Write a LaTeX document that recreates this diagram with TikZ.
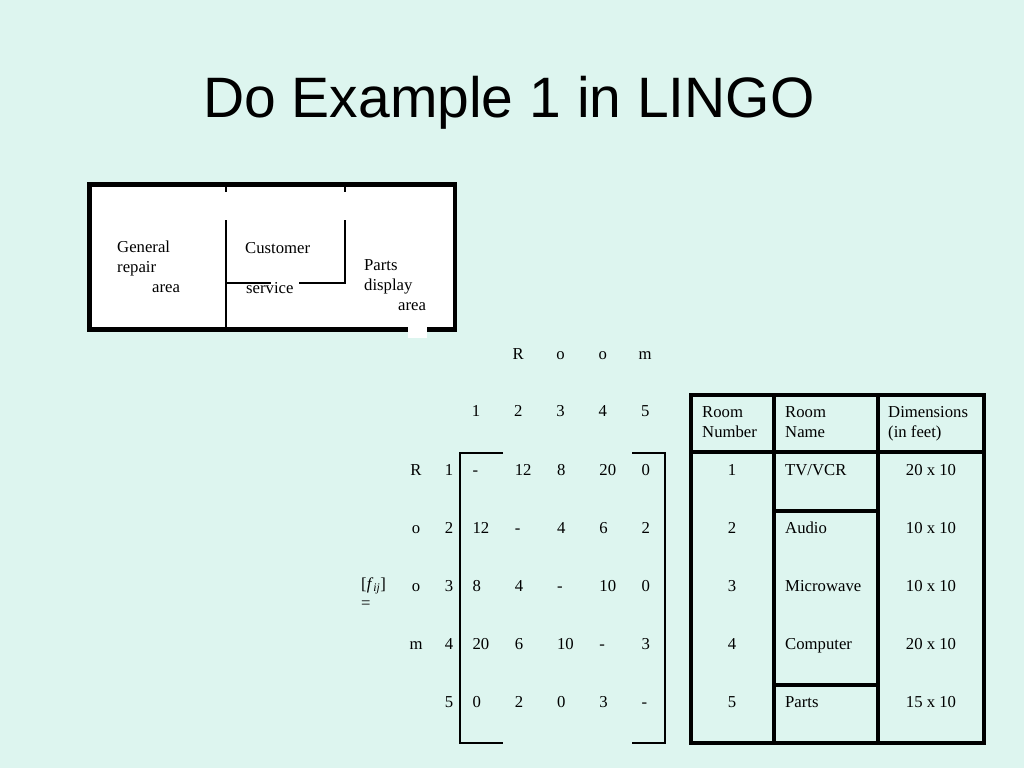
\documentclass[tikz,border=0pt]{standalone}
\usepackage{fontspec}
\setmainfont{Liberation Serif}
\newfontfamily\titlefont{Liberation Sans}
\definecolor{mint}{RGB}{221,245,239}

\begin{document}
\begin{tikzpicture}[x=1pt,y=-1pt,
		txt/.style={anchor=base west,inner sep=0pt,font=\fontsize{16.7}{20}\selectfont},
		mid/.style={txt,anchor=base},
		wall/.style={line width=2.4pt},
		grid/.style={line width=3.3pt}]
		\fill[mint] (0,0) rectangle (1024,768);
		\useasboundingbox (0,0) rectangle (1024,768);
		\node[inner sep=0pt,anchor=base,font=\fontsize{57}{60}\titlefont] (title) at (509,117) {Do Example 1 in LINGO};
		\fill[white] (89.5,184.5) rectangle (455,329.5);
		\draw[line width=4.5pt] (89.5,184.5) rectangle (455,329.5);
		\draw[wall] (225.7,184.5)--(225.7,192) (225.7,220)--(225.7,329.5)
		(225.7,283)--(271,283);
		\draw[wall] (345,184.5)--(345,192) (345,220)--(345,283)--(299,283);
		\fill[white] (408,326) rectangle (427,338);
		\node[txt] (gen) at (117,252) {General};
		\node[txt] (rep) at (117,272) {repair};
		\node[txt] (garea) at (152,292) {area};
		\node[txt] (cust) at (245,253) {Customer};
		\node[txt] (serv) at (246,293) {service};
		\node[txt] (parts) at (364,270) {Parts};
		\node[txt] (disp) at (364,290) {display};
		\node[txt] (parea) at (398,310) {area};
		\foreach \ch [count=\i] in {R,o,o,m}
		{
			\node[mid] (h\i) at ({476+42.3*\i},359) {\ch};
			\node[mid] (l\i) at (416,{417+58*\i}) {\ch};
		}
		\foreach \i in {1,...,5}
		{
			\node[mid] (c\i) at ({433.7+42.3*\i},416) {\i};
			\node[mid] (n\i) at (449,{417+58*\i}) {\i};
		}
		\foreach \row [count=\i] in {{-,12,8,20,0},{12,-,4,6,2},{8,4,-,10,0},{20,6,10,-,3},{0,2,0,3,-}}
		{
			\foreach \v [count=\j] in \row
			{
				\node[txt] (f\i\j) at ({430+42.3*\j},{417+58*\i}) {\v};
			}
		}
		\draw[line width=1.3pt] (503,453)--(460,453)--(460,743)--(503,743);
		\draw[line width=1.3pt] (632,453)--(665,453)--(665,743)--(632,743);
		\node[txt] (fij) at (361,589) {[\textit{f}\textsubscript{\textit{ij}}]};
		\node[txt] (eq) at (361,608) {=};
		\draw[grid] (691,395) rectangle (984,743);
		\draw[grid] (774,395)--(774,743) (878,395)--(878,743)
		(691,452)--(984,452) (774,511)--(878,511) (774,685)--(878,685);
		\node[txt] (rn1) at (702,417) {Room};
		\node[txt] (rn2) at (702,437) {Number};
		\node[txt] (rm1) at (785,417) {Room};
		\node[txt] (rm2) at (785,437) {Name};
		\node[txt] (dm1) at (888,417) {Dimensions};
		\node[txt] (dm2) at (888,437) {(in feet)};
		\foreach \rname/\rdim [count=\i] in {{TV/VCR}/20 x 10,Audio/10 x 10,Microwave/10 x 10,Computer/20 x 10,Parts/15 x 10}
		{
			\node[mid] (num\i) at (732,{417+58*\i}) {\i};
			\node[txt] (name\i) at (785,{417+58*\i}) {\rname};
			\node[mid] (dim\i) at (931,{417+58*\i}) {\rdim};
		}
	\end{tikzpicture}
\end{document}
